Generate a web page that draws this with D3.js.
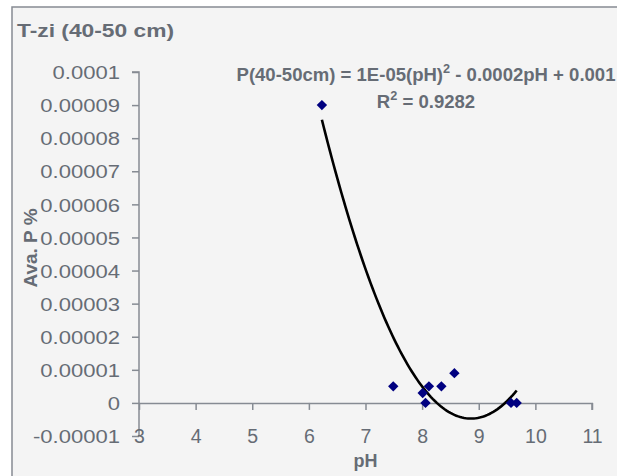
<!DOCTYPE html>
<html>
<head>
<meta charset="utf-8">
<script src="https://cdn.jsdelivr.net/npm/d3@7/dist/d3.min.js"></script>
<style>
  html, body { margin: 0; padding: 0; background: #ffffff; }
  svg { display: block; }
  text { font-family: "Liberation Sans", Arial, sans-serif; fill: #666c75; }
</style>
</head>
<body>
<svg id="chart" width="617" height="476"></svg>
<script>
// Available phosphorus against soil pH, 40-50 cm layer
const pH = [6.23, 7.49, 8.01, 8.06, 8.12, 8.34, 8.57, 9.57, 9.67];
const availP = [0.00009, 0.000005, 0.000003, 0, 0.000005, 0.000005, 0.000009, 0, 0];

const xTicks = [3, 4, 5, 6, 7, 8, 9, 10, 11];
const yTicks = [-0.00001, 0, 0.00001, 0.00002, 0.00003, 0.00004, 0.00005,
                0.00006, 0.00007, 0.00008, 0.00009, 0.0001];

const titleText = "T-zi (40-50 cm)";
const xLabel = "pH";
const yLabel = "Ava. P %";
const equationText = "P(40-50cm) = 1E-05(pH)";
const equationTail = " - 0.0002pH + 0.001";
const r2Text = "0.9282";

const svg = d3.select("#chart");

// widen a text element horizontally about its anchor point
function stretch(sel, kx) {
  sel.each(function () {
    const t = d3.select(this);
    const tx = +t.attr("x") || 0, ty = +t.attr("y") || 0;
    const prev = t.attr("transform") || "";
    t.attr("x", 0).attr("y", 0)
      .attr("transform", `${prev} translate(${tx},${ty}) scale(${kx},1)`);
  });
}

// chart area
svg.append("rect")
  .attr("x", 12).attr("y", 7)
  .attr("width", 617).attr("height", 480)
  .attr("fill", "#f4f4f4")
  .attr("stroke", "#868b93").attr("stroke-width", 1.5);

const x = d3.scaleLinear().domain([3, 11]).range([139, 592]);
const y = d3.scaleLinear().domain([-0.00001, 0.0001]).range([436, 72]);

// y axis
const yAxis = svg.append("g")
  .attr("transform", `translate(${x(3)},0)`)
  .call(d3.axisLeft(y).tickValues(yTicks).tickSize(7).tickPadding(12)
    .tickFormat(d => String(+d.toFixed(5))));
// x axis crosses at zero
const xAxis = svg.append("g")
  .attr("transform", `translate(0,${y(0)})`)
  .call(d3.axisBottom(x).tickValues(xTicks).tickSize(7).tickPadding(19)
    .tickFormat(d3.format("d")));

[yAxis, xAxis].forEach(g => {
  g.select(".domain").attr("stroke", "#868b93").attr("stroke-width", 1.5);
  g.selectAll(".tick line").attr("stroke", "#868b93").attr("stroke-width", 1.5);
  g.selectAll(".tick text")
    .style("font-family", "'Liberation Sans', Arial, sans-serif")
    .style("font-size", "19px")
    .attr("fill", "#666c75");
});
yAxis.selectAll(".tick text").attr("dy", "0.35em").call(stretch, 1.16);
xAxis.selectAll(".tick text").style("font-size", "19.5px");
xAxis.select(".domain").attr("d", `M${x(3)},0.5H${x(11)}V7`);
yAxis.select(".domain").attr("d", `M-7,${y(0.0001)}H0V${y(-0.00001)}`);

// quadratic least-squares trend (centred on mean pH)
const n = pH.length;
const mx = d3.mean(pH);
const u = pH.map(v => v - mx);
const S = k => d3.sum(u, v => Math.pow(v, k));
const T = k => d3.sum(u, (v, i) => Math.pow(v, k) * availP[i]);
const A = [[n, S(1), S(2)], [S(1), S(2), S(3)], [S(2), S(3), S(4)]];
const B = [T(0), T(1), T(2)];
function solve3(M, b) {
  const m = M.map((r, i) => r.concat([b[i]]));
  for (let c = 0; c < 3; c++) {
    let p = c;
    for (let r = c + 1; r < 3; r++) if (Math.abs(m[r][c]) > Math.abs(m[p][c])) p = r;
    [m[c], m[p]] = [m[p], m[c]];
    for (let r = 0; r < 3; r++) {
      if (r === c) continue;
      const f = m[r][c] / m[c][c];
      for (let k = c; k < 4; k++) m[r][k] -= f * m[c][k];
    }
  }
  return [m[0][3] / m[0][0], m[1][3] / m[1][1], m[2][3] / m[2][2]];
}
const [c0, c1, c2] = solve3(A, B);
const fit = v => c0 + c1 * (v - mx) + c2 * (v - mx) * (v - mx);
const [lo, hi] = d3.extent(pH);
const trend = d3.range(0, 101).map(i => lo + (hi - lo) * i / 100);

svg.append("path")
  .datum(trend)
  .attr("fill", "none")
  .attr("stroke", "#000000")
  .attr("stroke-width", 2.6)
  .attr("d", d3.line().x(v => x(v)).y(v => y(fit(v))));

// data points
svg.append("g").selectAll("path")
  .data(pH.map((v, i) => [v, availP[i]]))
  .join("path")
  .attr("transform", d => `translate(${x(d[0])},${y(d[1])})`)
  .attr("d", "M0,-5.2L5.2,0L0,5.2L-5.2,0Z")
  .attr("fill", "#000080");

// title
svg.append("text")
  .attr("x", 17).attr("y", 37)
  .style("font-size", "19px").style("font-weight", "bold")
  .text(titleText)
  .call(stretch, 1.2);

// equation and R²
const eq = svg.append("text")
  .attr("x", 426).attr("y", 81)
  .attr("text-anchor", "middle")
  .style("font-size", "17.5px").style("font-weight", "bold");
eq.append("tspan").text(equationText);
eq.append("tspan").attr("dy", -8).style("font-size", "12px").text("2");
eq.append("tspan").attr("dy", 8).text(equationTail);
eq.call(stretch, 1.06);

const r2 = svg.append("text")
  .attr("x", 426).attr("y", 108)
  .attr("text-anchor", "middle")
  .style("font-size", "17.5px").style("font-weight", "bold");
r2.append("tspan").text("R");
r2.append("tspan").attr("dy", -8).style("font-size", "12px").text("2");
r2.append("tspan").attr("dy", 8).text(" = " + r2Text);
r2.call(stretch, 1.06);

// axis titles
svg.append("text")
  .attr("x", x(7)).attr("y", 467)
  .attr("text-anchor", "middle")
  .style("font-size", "18px").style("font-weight", "bold")
  .text(xLabel);

svg.append("text")
  .attr("transform", `translate(37,248) rotate(-90)`)
  .attr("text-anchor", "middle")
  .style("font-size", "19px").style("font-weight", "bold")
  .text(yLabel);
</script>
</body>
</html>
